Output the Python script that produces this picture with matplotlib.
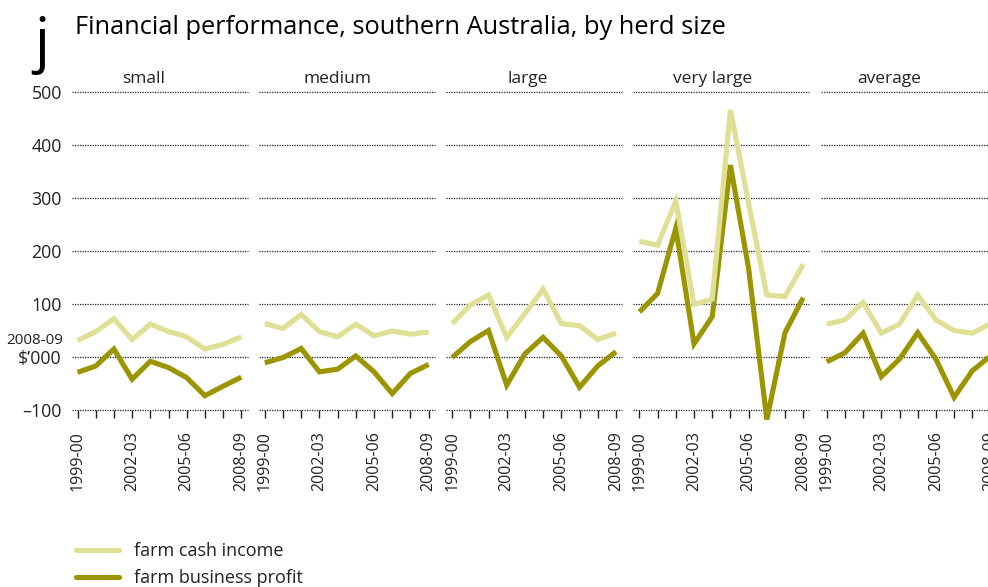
import matplotlib
matplotlib.use("Agg")
import matplotlib.pyplot as plt
from matplotlib.lines import Line2D

plt.rcParams['font.family'] = ['Open Sans', 'DejaVu Sans']

years = ["1999-00", "2000-01", "2001-02", "2002-03", "2003-04",
         "2004-05", "2005-06", "2006-07", "2007-08", "2008-09"]
tick_labels = ["1999-00", "", "", "2002-03", "", "", "2005-06", "", "", "2008-09"]
panels = ["small", "medium", "large", "very large", "average"]

cash_small = [31, 48, 72, 33, 62, 48, 38, 15, 24, 38]
profit_small = [-29, -17, 15, -42, -8, -20, -39, -73, -55, -38]
cash_medium = [63, 54, 80, 48, 38, 62, 40, 49, 43, 47]
profit_medium = [-11, -1, 16, -28, -23, 2, -28, -69, -31, -14]
cash_large = [63, 98, 117, 37, 82, 128, 63, 59, 33, 45]
profit_large = [-1, 29, 50, -53, 6, 37, 2, -57, -17, 10]
cash_vlarge = [218, 211, 294, 99, 109, 466, 290, 117, 114, 175]
profit_vlarge = [85, 120, 243, 25, 76, 362, 167, -118, 46, 112]
cash_avg = [62, 70, 103, 45, 62, 117, 70, 50, 45, 63]
profit_avg = [-9, 8, 45, -37, -4, 46, -4, -76, -26, 2]

cash_series = [cash_small, cash_medium, cash_large, cash_vlarge, cash_avg]
profit_series = [profit_small, profit_medium, profit_large, profit_vlarge, profit_avg]

y_ticks = [-100, 0, 100, 200, 300, 400, 500]
y_tick_labels = ["\u2013100", "$\u2019000", "100", "200", "300", "400", "500"]

CASH = "#dfe095"
PROFIT = "#9a9500"
W, H = 988, 587
fig = plt.figure(figsize=(W / 100, H / 100), dpi=100)

left0, pw, pitch = 71.5, 176, 187.3
top_px, bot_px = 92, 410
title_centers = [143.5, 337, 528, 713, 889]
x = list(range(len(years)))

for i, name in enumerate(panels):
    l = left0 + i * pitch
    ax = fig.add_axes([l / W, (H - bot_px) / H, pw / W, (bot_px - top_px) / H])
    ax.set_xlim(-0.33, 9.34)
    ax.set_ylim(-100, 500)
    for s in ax.spines.values():
        s.set_visible(False)
    for yv in y_ticks:
        ax.axhline(yv, color="#222222", lw=0.9, ls=(0, (1, 1)), zorder=1, clip_on=False)
    ax.plot(x, profit_series[i], color=PROFIT, lw=3.7, solid_joinstyle="miter",
            solid_capstyle="butt", zorder=3, clip_on=False)
    ax.plot(x, cash_series[i], color=CASH, lw=3.7, solid_joinstyle="miter",
            solid_capstyle="butt", zorder=4, clip_on=False)
    ax.set_xticks(x)
    ax.set_xticklabels(tick_labels, rotation=90, fontsize=11.5, color="#222222")
    ax.tick_params(axis="x", length=6, width=1.0, color="#222222", pad=9)
    ax.set_yticks(y_ticks)
    if i == 0:
        ax.set_yticklabels(y_tick_labels, fontsize=12.8, color="#222222")
        ax.tick_params(axis="y", length=0, pad=7)
        ax.text(-0.045, 31, "2008-09", transform=ax.get_yaxis_transform(),
                ha="right", va="center", fontsize=11, color="#222222")
    else:
        ax.set_yticklabels([])
        ax.tick_params(axis="y", length=0)
    fig.text(title_centers[i] / W, (H - 83) / H, name, ha="center", va="baseline",
             fontsize=12.5, color="#222222")

fig.text(34 / W, (H - 61) / H, "j", fontsize=43, ha="left", va="baseline", color="black")
fig.text(75 / W, (H - 33.5) / H, "Financial performance, southern Australia, by herd size",
         fontsize=18.3, ha="left", va="baseline", color="black")

handles = [Line2D([], [], color=CASH, lw=3.7, solid_capstyle="round"),
           Line2D([], [], color=PROFIT, lw=3.7, solid_capstyle="round")]
fig.legend(handles, ["farm cash income", "farm business profit"], loc="upper left",
           bbox_to_anchor=(76 / W, (H - 542) / H), frameon=False, fontsize=13,
           handlelength=2.4, handletextpad=0.8, labelspacing=0.5,
           borderpad=0, borderaxespad=0, labelcolor="#222222")

fig.savefig("out.png", dpi=100)
